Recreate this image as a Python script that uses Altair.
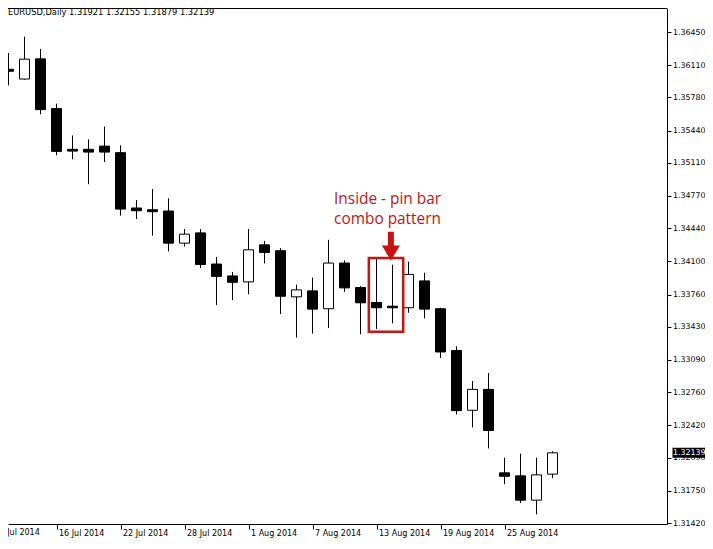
import altair as alt
import pandas as pd

# ---- data (EURUSD daily) ----
dates = ["11 Jul 2014", "14 Jul 2014", "15 Jul 2014", "16 Jul 2014", "17 Jul 2014", "18 Jul 2014",
         "21 Jul 2014", "22 Jul 2014", "23 Jul 2014", "24 Jul 2014", "25 Jul 2014",
         "28 Jul 2014", "29 Jul 2014", "30 Jul 2014", "31 Jul 2014", "1 Aug 2014",
         "4 Aug 2014", "5 Aug 2014", "6 Aug 2014", "7 Aug 2014", "8 Aug 2014",
         "11 Aug 2014", "12 Aug 2014", "13 Aug 2014", "14 Aug 2014", "15 Aug 2014",
         "18 Aug 2014", "19 Aug 2014", "20 Aug 2014", "21 Aug 2014", "22 Aug 2014",
         "25 Aug 2014", "26 Aug 2014", "27 Aug 2014", "28 Aug 2014"]
opens = [1.36068, 1.35968, 1.36175, 1.35665, 1.35248, 1.35248,
         1.35281, 1.35214, 1.34647, 1.34629, 1.34616,
         1.34287, 1.34392, 1.34073, 1.33951, 1.33890,
         1.34270, 1.34209, 1.33737, 1.33798, 1.33615,
         1.34083, 1.33832, 1.33679, 1.33641, 1.33625,
         1.33900, 1.33615, 1.33187, 1.32575, 1.32789,
         1.31934, 1.31903, 1.31654, 1.31921]
highs = [1.36236, 1.36402, 1.36277, 1.35716, 1.35390, 1.35350,
         1.35482, 1.35289, 1.34728, 1.34840, 1.34746,
         1.34433, 1.34430, 1.34144, 1.33992, 1.34433,
         1.34310, 1.34236, 1.33862, 1.33934, 1.34321,
         1.34110, 1.33849, 1.34127, 1.34066, 1.34097,
         1.33984, 1.33625, 1.33230, 1.32874, 1.32955,
         1.32089, 1.32130, 1.32089, 1.32155]
lows = [1.35903, 1.35961, 1.35607, 1.35187, 1.35146, 1.34891,
        1.35118, 1.34568, 1.34535, 1.34364, 1.34201,
        1.34252, 1.34032, 1.33651, 1.33702, 1.33763,
        1.34079, 1.33560, 1.33319, 1.33360, 1.33417,
        1.33788, 1.33353, 1.33407, 1.33465, 1.33574,
        1.33516, 1.33111, 1.32531, 1.32398, 1.32184,
        1.31817, 1.31624, 1.31509, 1.31879]
closes = [1.36048, 1.36172, 1.35655, 1.35227, 1.35230, 1.35220,
          1.35220, 1.34636, 1.34619, 1.34609, 1.34287,
          1.34379, 1.34069, 1.33947, 1.33886, 1.34219,
          1.34191, 1.33743, 1.33808, 1.33611, 1.34083,
          1.33829, 1.33676, 1.33625, 1.33625, 1.33967,
          1.33611, 1.33172, 1.32571, 1.32789, 1.32368,
          1.31899, 1.31654, 1.31913, 1.32139]

y_ticks = [1.36450, 1.36110, 1.35780, 1.35440, 1.35110, 1.34770, 1.34440, 1.34100,
           1.33760, 1.33430, 1.33090, 1.32760, 1.32420, 1.32090, 1.31750, 1.31420]
# bar index of each time-axis tick and its label
x_tick_idx = [3, 7, 11, 15, 19, 23, 27, 31]
x_tick_labels = ["16 Jul 2014", "22 Jul 2014", "28 Jul 2014", "1 Aug 2014",
                 "7 Aug 2014", "13 Aug 2014", "19 Aug 2014", "25 Aug 2014"]
# the previous label, cut by the left edge of the window
edge_tick_idx = [-1]
edge_tick_labels = ["10 Jul 2014"]

symbol_name = "EURUSD,Daily"
annot_lines = "Inside - pin bar\ncombo pattern"
# annotation box (bar index / price), arrow and text anchor
box_x = [22.52, 24.67]
box_y = [1.33380, 1.34134]
arrow_pos = [23.9, 1.34255]
text_pos = [23.69, 1.34688]

RED = "#cc1111"
FONT = "DejaVu Sans"
W, H = 659, 516

df = pd.DataFrame({"k": list(range(len(dates))), "date": dates,
                   "open": opens, "high": highs, "low": lows, "close": closes})

xs = alt.Scale(domain=[-0.03125, 41.15625], nice=False, zero=False, padding=0)
ys = alt.Scale(domain=[1.314098, 1.366959], nice=False, zero=False, padding=0)

label_arr = "[" + ",".join("'%s'" % d for d in x_tick_labels) + "]"
x_axis = alt.Axis(values=x_tick_idx, labelExpr=label_arr + "[(datum.value - 3) / 4]", orient="bottom",
                  domain=True, domainColor="black", ticks=True, tickColor="black", tickSize=5,
                  labelAlign="left", labelBaseline="top", labelPadding=0, labelOffset=2,
                  labelFlush=False, labelBound=False, labelOverlap=False, grid=False, title=None,
                  labelFont=FONT, labelFontSize=8, labelColor="black", zindex=0)
y_axis = alt.Axis(values=y_ticks, format=".5f", orient="right", domain=True, domainColor="black",
                  ticks=True, tickColor="black", tickSize=4, labelPadding=1.5, labelAlign="left",
                  labelBaseline="middle", labelFlush=False, labelBound=False, labelOverlap=False,
                  grid=False, title=None, labelFont=FONT, labelFontSize=7.9, labelColor="black",
                  zindex=0)


def X(f):
    return alt.X(f, scale=xs, axis=x_axis)


def Y(f):
    return alt.Y(f, scale=ys, axis=y_axis)


base = alt.Chart(df)

wicks = base.mark_rule(color="black", strokeWidth=1).encode(
    x=X("k:Q"), y=Y("low:Q"), y2="high:Q",
)

bodies = base.mark_bar(size=10, stroke="black", strokeWidth=1, orient="vertical").encode(
    x=X("k:Q"), y=Y("open:Q"), y2="close:Q",
    fill=alt.condition(alt.datum.close > alt.datum.open, alt.value("white"), alt.value("black")),
)

box = alt.Chart(pd.DataFrame({"x1": [box_x[0]], "x2": [box_x[1]], "y1": [box_y[0]], "y2": [box_y[1]]})
                ).mark_rect(fillOpacity=0, stroke=RED, strokeWidth=2.5).encode(
    x=X("x1:Q"), x2="x2:Q", y=Y("y1:Q"), y2="y2:Q",
)

arrow_path = "M-0.33,-1.61L0.33,-1.61L0.33,-0.09L1,-0.09L0,1.58L-1,-0.09L-0.33,-0.09Z"
arrow = alt.Chart(pd.DataFrame({"x": [arrow_pos[0]], "y": [arrow_pos[1]]})).mark_point(
    shape=arrow_path, size=324, filled=True, fill=RED, color=RED, strokeWidth=0, opacity=1
).encode(x=X("x:Q"), y=Y("y:Q"))

annot = alt.Chart(pd.DataFrame({"x": [text_pos[0]], "y": [text_pos[1]], "t": [annot_lines]})).mark_text(
    align="center", baseline="alphabetic", font="Open Sans", fontSize=15.4, color=RED,
    lineBreak="\n", lineHeight=20
).encode(x=X("x:Q"), y=Y("y:Q"), text="t:N")

title_str = "%s  %.5f %.5f %.5f %.5f" % (symbol_name, opens[-1], highs[-1], lows[-1], closes[-1])
title = alt.Chart(pd.DataFrame({"t": [title_str]})).mark_text(
    align="left", baseline="middle", font=FONT, fontSize=8.3, color="black"
).encode(x=alt.value(0), y=alt.value(4.5), text="t:N")

edge_label = alt.Chart(pd.DataFrame({"k": edge_tick_idx, "t": edge_tick_labels})).mark_text(
    align="left", baseline="top", font=FONT, fontSize=8, color="black", dx=2
).encode(x=X("k:Q"), y=alt.value(H + 5), text="t:N")

top_border = alt.Chart(pd.DataFrame({"a": [0]})).mark_rule(color="black", strokeWidth=1).encode(
    x=alt.value(0), x2=alt.value(W), y=alt.value(0.5))

last_df = pd.DataFrame({"p": [closes[-1]], "t": ["%.5f" % closes[-1]]})
price_box = alt.Chart(last_df).mark_rule(color="black", strokeWidth=10).encode(
    x=alt.value(W + 5.5), x2=alt.value(W + 38), y=Y("p:Q"))
price_txt = alt.Chart(last_df).mark_text(
    align="left", baseline="middle", font=FONT, fontSize=7.9, color="white"
).encode(x=alt.value(W + 6), y=Y("p:Q"), text="t:N")

chart = alt.layer(wicks, bodies, box, arrow, annot, title, edge_label, top_border,
                  price_box, price_txt).properties(
    width=W, height=H,
    autosize=alt.AutoSizeParams(type="none"),
    padding={"left": 0, "top": 0, "right": 38, "bottom": 16},
).configure_view(stroke=None)

chart.save("out.html", embed_options={"renderer": "svg", "actions": False})
